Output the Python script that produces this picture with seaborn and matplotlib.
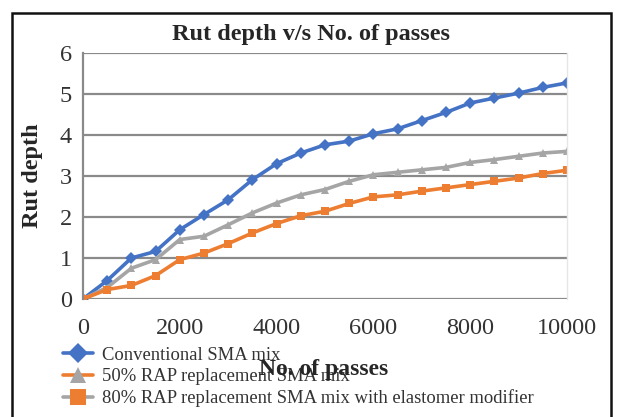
import numpy as np
import pandas as pd
import seaborn as sns
import matplotlib
matplotlib.use("Agg")
import matplotlib.pyplot as plt
from matplotlib.lines import Line2D
from matplotlib.patches import Rectangle

# Number of passes (every 500 up to 10000)
passes = [0, 500, 1000, 1500, 2000, 2500, 3000, 3500, 4000, 4500, 5000,
          5500, 6000, 6500, 7000, 7500, 8000, 8500, 9000, 9500, 10000]

# Rut depth readings for each mix
conventional = [0.00, 0.45, 1.00, 1.16, 1.69, 2.06, 2.42, 2.91, 3.30, 3.56, 3.76,
                3.85, 4.03, 4.15, 4.35, 4.55, 4.78, 4.90, 5.02, 5.16, 5.27]
rap50 = [0.00, 0.28, 0.75, 0.96, 1.45, 1.53, 1.81, 2.10, 2.34, 2.54, 2.67,
         2.87, 3.03, 3.09, 3.15, 3.21, 3.33, 3.40, 3.48, 3.56, 3.60]
rap80 = [0.00, 0.23, 0.33, 0.57, 0.96, 1.12, 1.35, 1.61, 1.84, 2.03, 2.14,
         2.33, 2.49, 2.54, 2.63, 2.71, 2.79, 2.87, 2.95, 3.06, 3.14]

labels = ["Conventional SMA mix",
          "50% RAP replacement SMA mix",
          "80% RAP replacement SMA mix with elastomer modifier"]
x_ticks = [0, 2000, 4000, 6000, 8000, 10000]
y_ticks = [0, 1, 2, 3, 4, 5, 6]

BLUE, ORANGE, GRAY = "#4472C4", "#ED7D31", "#A5A5A5"

df = pd.concat([
    pd.DataFrame({"passes": passes, "rut": conventional, "mix": labels[0]}),
    pd.DataFrame({"passes": passes, "rut": rap50, "mix": labels[1]}),
    pd.DataFrame({"passes": passes, "rut": rap80, "mix": labels[2]}),
])

sns.set_style("white")
plt.rcParams["font.family"] = ["Liberation Serif", "DejaVu Serif"]

fig = plt.figure(figsize=(6.17, 4.17), dpi=100)
ax = fig.add_axes([0.1345, 0.283, 0.7845, 0.590])

palette = {labels[0]: BLUE, labels[1]: GRAY, labels[2]: ORANGE}
markers = {labels[0]: "D", labels[1]: "^", labels[2]: "s"}
sns.lineplot(data=df, x="passes", y="rut", hue="mix", style="mix",
             palette=palette, markers=markers, dashes=False,
             hue_order=labels, style_order=labels,
             linewidth=2.6, markersize=6, markeredgewidth=0,
             legend=False, ax=ax)

ax.set_xlim(0, 10000)
ax.set_ylim(0, 6)
ax.set_xticks(x_ticks)
ax.set_yticks(y_ticks)
ax.tick_params(axis="both", length=0, labelsize=17.5, labelcolor="#333333")
ax.tick_params(axis="x", pad=14)
ax.tick_params(axis="y", pad=8)
ax.yaxis.grid(True, color="#8a8a8a", linewidth=1.6)
ax.xaxis.grid(False)
ax.set_axisbelow(True)
for side in ["top", "bottom"]:
    ax.spines[side].set_visible(False)
ax.spines["left"].set_color("#8a8a8a")
ax.spines["left"].set_linewidth(1.6)
ax.spines["right"].set_color("#e6e6e6")
ax.spines["right"].set_linewidth(1.0)

ax.set_xlabel("")
ax.set_ylabel("")
fig.text(0.053, 0.578, "Rut depth", rotation=90, ha="center", va="center",
         fontsize=17.5, fontweight="bold")
fig.text(0.504, 0.918, "Rut depth v/s No. of passes", ha="center", va="center",
         fontsize=17.5, fontweight="bold")

handles = [
    Line2D([], [], color=BLUE, linewidth=2.6, marker="D", markersize=10,
           markerfacecolor=BLUE, markeredgewidth=0),
    Line2D([], [], color=ORANGE, linewidth=2.6, marker="^", markersize=12,
           markerfacecolor=GRAY, markeredgewidth=0),
    Line2D([], [], color=GRAY, linewidth=2.6, marker="s", markersize=12,
           markerfacecolor=ORANGE, markeredgewidth=0),
]
fig.legend(handles, labels, loc="upper left", bbox_to_anchor=(0.102, 0.168),
           frameon=False, fontsize=13.4, handlelength=1.6, handletextpad=0.5,
           labelspacing=0.22, borderaxespad=0, borderpad=0,
           labelcolor="#333333")

fig.text(0.525, 0.113, "No. of passes", ha="center", va="center",
         fontsize=17, fontweight="bold", zorder=10)

# outer chart frame
fig.patches.append(Rectangle((12 / 617, -0.02), (611 - 12) / 617, 0.02 + 1 - 13 / 417,
                             transform=fig.transFigure, fill=False,
                             edgecolor="#111111", linewidth=1.8))

fig.savefig("out.png", dpi=100)
